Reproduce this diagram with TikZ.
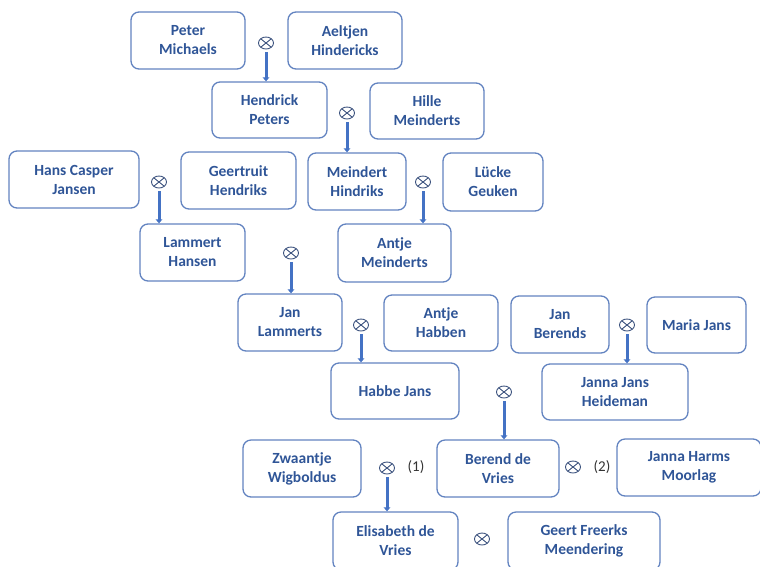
\documentclass[tikz,border=0pt]{standalone}
\usepackage{fontspec}
\setmainfont{Carlito}
\usetikzlibrary{shapes.geometric,arrows.meta}
\definecolor{boxline}{HTML}{6283C0}
\definecolor{txt}{HTML}{2F5597}
\definecolor{arrc}{HTML}{4472C4}
\definecolor{xcol}{HTML}{3F5580}
\begin{document}
\begin{tikzpicture}[x=1pt,y=-1pt,
 person/.style={draw=boxline, line width=1.3pt, rounded corners=8pt, align=center, text=txt,
   font=\fontsize{15.5}{19}\selectfont\bfseries, inner sep=0pt},
 sz/.style 2 args={minimum width=#1pt, minimum height=#2pt},
 union/.style={ellipse, draw=xcol, line width=0.9pt, minimum width=15pt, minimum height=12pt, inner sep=0pt,
   path picture={\draw[xcol, line width=0.9pt] (path picture bounding box.south west) -- (path picture bounding box.north east)
     (path picture bounding box.north west) -- (path picture bounding box.south east);}},
 descent/.style={draw=arrc, line width=3pt, -{Triangle[length=4pt,width=6.5pt]}},
 num/.style={font=\fontsize{15}{17}\selectfont, text=black!80}]
\useasboundingbox (0,0) rectangle (760,566);
% persons
\node[person, sz={114}{57}] (pm)  at (188,40.5)  {Peter\\Michaels};
\node[person, sz={114}{57}] (ah)  at (345,40.5)  {Aeltjen\\Hindericks};
\node[person, sz={115}{56}] (hp)  at (269.5,110) {Hendrick\\Peters};
\node[person, sz={114}{56}] (hm)  at (427,111)   {Hille\\Meinderts};
\node[person, sz={130}{57}] (hcj) at (74,179.5)  {Hans Casper\\Jansen};
\node[person, sz={115}{57}] (gh)  at (238.5,180.5) {Geertruit\\Hendriks};
\node[person, sz={98}{57}]  (mh)  at (357,181.5) {Meindert\\Hindriks};
\node[person, sz={100}{58}] (lg)  at (493,182)   {Lücke\\Geuken};
\node[person, sz={105}{57}] (lh)  at (192.5,252.5) {Lammert\\Hansen};
\node[person, sz={113}{58}] (am)  at (394.5,253) {Antje\\Meinderts};
\node[person, sz={104}{57}] (jl)  at (290,322.5) {Jan\\Lammerts};
\node[person, sz={114}{56}] (ahb) at (441,323)   {Antje\\Habben};
\node[person, sz={98}{57}]  (jb)  at (560,324.5) {Jan\\Berends};
\node[person, sz={99}{56}]  (mj)  at (696.5,325) {Maria Jans};
\node[person, sz={128}{56}] (hj)  at (395,391)   {Habbe Jans};
\node[person, sz={146}{56}] (jjh) at (615,392)   {Janna Jans\\Heideman};
\node[person, sz={118}{57}] (zw)  at (302,468.5) {Zwaantje\\Wigboldus};
\node[person, sz={122}{57}] (bdv) at (498,468.5) {Berend de\\Vries};
\node[person, sz={144}{57}] (jhm) at (689,467.5) {Janna Harms\\Moorlag};
\node[person, sz={125}{58}] (edv) at (395.5,541) {Elisabeth de\\Vries};
\node[person, sz={152}{58}] (gfm) at (584,541)   {Geert Freerks\\Meendering};
% unions
\node[union] (u1)  at (266,43)  {};
\node[union] (u2)  at (347,113) {};
\node[union] (u3)  at (159,182) {};
\node[union] (u4)  at (423,182) {};
\node[union] (u5)  at (291,253) {};
\node[union] (u6)  at (361,325) {};
\node[union] (u7)  at (627,325) {};
\node[union] (u8)  at (504,392) {};
\node[union] (u9)  at (387,468) {};
\node[union] (u10) at (573,467) {};
\node[union] (u11) at (482,539) {};
\node[num] (n1) at (416,467) {(1)};
\node[num] (n2) at (602,467) {(2)};
% descent
\draw[descent] ([yshift=-3pt]u1.south) -- (u1.south |- hp.north);
\draw[descent] ([yshift=-3pt]u2.south) -- (u2.south |- mh.north);
\draw[descent] ([yshift=-3pt]u3.south) -- (u3.south |- lh.north);
\draw[descent] ([yshift=-3pt]u4.south) -- (u4.south |- am.north);
\draw[descent] ([yshift=-3pt]u5.south) -- (u5.south |- jl.north);
\draw[descent] ([yshift=-3pt]u6.south) -- (u6.south |- hj.north);
\draw[descent] ([yshift=-3pt]u7.south) -- (u7.south |- jjh.north);
\draw[descent] ([yshift=-3pt]u8.south) -- (u8.south |- bdv.north);
\draw[descent] ([yshift=-3pt]u9.south) -- (u9.south |- edv.north);
\end{tikzpicture}
\end{document}
